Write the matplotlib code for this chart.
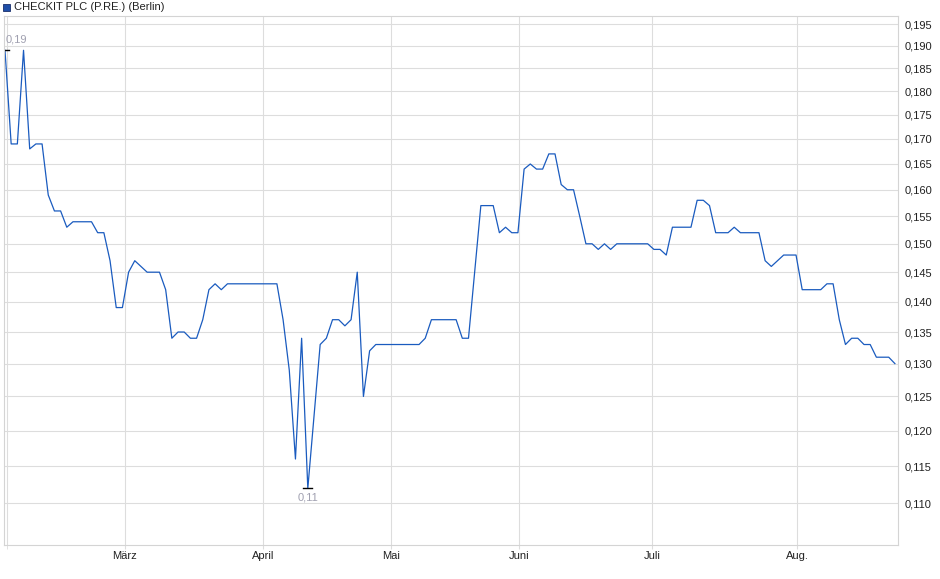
import numpy as np
import matplotlib
matplotlib.use("Agg")
import matplotlib.pyplot as plt
from matplotlib.ticker import FixedLocator, NullLocator, FuncFormatter

# trading-day index and closing price (vertices of the line)
day_idx = [0, 1, 2, 3, 4, 5, 6, 7, 8, 9, 10, 11, 14, 15, 16, 17, 18, 19, 20, 21,
           23, 25, 26, 27, 28, 29, 30, 31, 32, 33, 34, 35, 36, 44, 45, 46, 47, 48,
           49, 51, 52, 53, 54, 55, 56, 57, 58, 59, 60, 67, 68, 69, 73, 74, 75, 77,
           79, 80, 81, 82, 83, 84, 85, 86, 87, 88, 89, 90, 91, 92, 93, 94, 95, 96,
           97, 98, 99, 104, 105, 106, 107, 108, 111, 112, 113, 114, 115, 117, 118,
           119, 122, 123, 124, 126, 128, 129, 132, 133, 134, 135, 136, 137, 138,
           139, 140, 141, 143, 144]
price = [0.189, 0.169, 0.169, 0.189, 0.168, 0.169, 0.169, 0.159, 0.156, 0.156,
         0.153, 0.154, 0.154, 0.152, 0.152, 0.147, 0.139, 0.139, 0.145, 0.147,
         0.145, 0.145, 0.142, 0.134, 0.135, 0.135, 0.134, 0.134, 0.137, 0.142,
         0.143, 0.142, 0.143, 0.143, 0.137, 0.129, 0.116, 0.134,
         0.112, 0.133, 0.134, 0.137, 0.137, 0.136, 0.137, 0.145, 0.125, 0.132,
         0.133, 0.133, 0.134, 0.137, 0.137, 0.134, 0.134, 0.157,
         0.157, 0.152, 0.153, 0.152, 0.152, 0.164, 0.165, 0.164, 0.164, 0.167,
         0.167, 0.161, 0.160, 0.160, 0.155, 0.150, 0.150, 0.149,
         0.150, 0.149, 0.150, 0.150, 0.149, 0.149, 0.148, 0.153, 0.153, 0.158,
         0.158, 0.157, 0.152, 0.152, 0.153,
         0.152, 0.152, 0.147, 0.146, 0.148, 0.148, 0.142, 0.142, 0.143, 0.143,
         0.137, 0.133, 0.134, 0.134,
         0.133, 0.133, 0.131, 0.131, 0.130]

month_pos = [19.4, 41.7, 62.5, 83.2, 104.7, 128.2]
month_labels = ["März", "April", "Mai", "Juni", "Juli", "Aug."]
y_ticks = [0.110, 0.115, 0.120, 0.125, 0.130, 0.135, 0.140, 0.145, 0.150,
           0.155, 0.160, 0.165, 0.170, 0.175, 0.180, 0.185, 0.190, 0.195]

plt.rcParams['font.family'] = ['Liberation Sans', 'DejaVu Sans']

fig = plt.figure(figsize=(9.4, 5.79), dpi=100)
ax = fig.add_axes([4 / 940, 1 - 545 / 579, 894 / 940, 529 / 579])

line_color = '#1a5bbf'
ax.plot(day_idx, price, color=line_color, linewidth=0.9)

ax.set_yscale('log')
ax.set_ylim(0.10468, 0.1969)
ax.set_xlim(-0.16, 144.5)

ax.yaxis.set_major_locator(FixedLocator(y_ticks))
ax.yaxis.set_minor_locator(NullLocator())
ax.yaxis.set_major_formatter(FuncFormatter(lambda v, p: f"{v:.3f}".replace('.', ',')))
ax.yaxis.tick_right()
ax.tick_params(axis='y', length=0, pad=5, labelsize=8, colors='#222222')

ax.set_xticks(month_pos)
ax.set_xticklabels(month_labels)
ax.set_xticks([0.35], minor=True)
ax.tick_params(axis='x', which='both', length=3, color='#dddddd', pad=1,
               labelsize=8, labelcolor='#222222')

ax.grid(True, which='major', color='#dddddd', linewidth=0.8)
ax.grid(True, which='minor', axis='x', color='#dddddd', linewidth=0.8)
ax.set_axisbelow(True)
for sp in ax.spines.values():
    sp.set_color('#d4d4d4')
    sp.set_linewidth(0.8)

# max / min markers
i_max = int(np.argmax(price))
i_min = int(np.argmin(price))
ax.plot([day_idx[i_max] - 0.6, day_idx[i_max] + 0.6], [price[i_max]] * 2,
        color='black', linewidth=1.0)
ax.plot([day_idx[i_min] - 0.75, day_idx[i_min] + 0.75], [price[i_min]] * 2,
        color='black', linewidth=1.0)
ax.annotate(f"{price[i_max]:.2f}".replace('.', ','), (day_idx[i_max], price[i_max]),
            xytext=(0.5, 4), textcoords='offset points', ha='left', va='bottom',
            fontsize=8, color='#a0a0b0')
ax.annotate(f"{price[i_min]:.2f}".replace('.', ','), (day_idx[i_min], price[i_min]),
            xytext=(0, -3), textcoords='offset points', ha='center', va='top',
            fontsize=8, color='#a0a0b0')

# legend-like title
fig.patches.append(plt.Rectangle((3 / 940, 1 - 11 / 579), 7 / 940, 7 / 579,
                                 transform=fig.transFigure, facecolor='#1f4fa8',
                                 edgecolor='#1a2f6a', linewidth=0.6))
fig.text(14 / 940, 1 - 6.5 / 579, "CHECKIT PLC (P.RE.) (Berlin)", fontsize=8,
         va='center', ha='left', color='#222222')

fig.savefig("out.png", dpi=100)
